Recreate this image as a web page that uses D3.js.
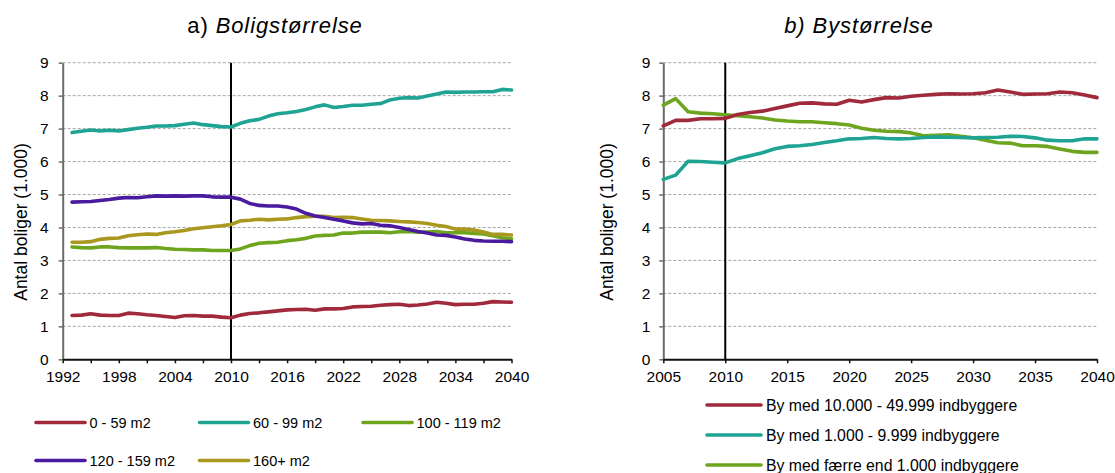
<!DOCTYPE html>
<html>
<head>
<meta charset="utf-8">
<script src="https://cdn.jsdelivr.net/npm/d3@7"></script>
<style>
  html, body { margin: 0; padding: 0; background: #fff; }
  svg { display: block; font-family: "Liberation Sans", Arial, sans-serif; }
</style>
</head>
<body>
<svg id="chart" width="1115" height="473"></svg>
<script>
// ---- a) Boligstørrelse: dwellings by floor area (1.000), 1993–2040 ----
const yearsA = d3.range(1993, 2041);
const seriesANames = ["0 - 59 m2", "60 - 99 m2", "100 - 119 m2", "120 - 159 m2", "160+ m2"];
const area0_59 = [1.33,1.34,1.38,1.34,1.33,1.33,1.40,1.38,1.35,1.33,1.30,1.27,1.32,1.33,1.31,1.31,1.28,1.26,
  1.34,1.39,1.41,1.44,1.47,1.50,1.51,1.52,1.49,1.53,1.53,1.54,1.59,1.60,1.61,1.64,1.66,1.67,1.63,1.65,1.68,1.73,1.70,1.66,1.67,1.67,1.70,1.75,1.74,1.73];
const area60_99 = [6.88,6.92,6.96,6.93,6.95,6.93,6.97,7.01,7.04,7.08,7.08,7.09,7.13,7.17,7.12,7.09,7.06,7.05,
  7.16,7.24,7.28,7.38,7.45,7.48,7.52,7.58,7.66,7.72,7.64,7.67,7.71,7.71,7.74,7.76,7.87,7.92,7.94,7.93,7.99,8.05,8.11,8.10,8.11,8.11,8.12,8.12,8.19,8.17];
const area100_119 = [3.41,3.39,3.38,3.41,3.41,3.39,3.38,3.38,3.38,3.39,3.36,3.34,3.33,3.32,3.32,3.30,3.30,3.30,
  3.35,3.45,3.52,3.54,3.55,3.60,3.63,3.67,3.74,3.76,3.77,3.83,3.83,3.86,3.86,3.86,3.84,3.87,3.88,3.86,3.86,3.88,3.84,3.84,3.84,3.82,3.80,3.75,3.69,3.66];
const area120_159 = [4.77,4.78,4.79,4.82,4.85,4.89,4.91,4.90,4.93,4.96,4.95,4.96,4.95,4.96,4.96,4.93,4.92,4.92,
  4.86,4.73,4.67,4.65,4.65,4.62,4.56,4.43,4.35,4.30,4.25,4.20,4.14,4.11,4.12,4.07,4.05,4.00,3.94,3.88,3.83,3.77,3.76,3.71,3.65,3.61,3.59,3.58,3.58,3.57];
const area160plus = [3.55,3.55,3.57,3.64,3.67,3.68,3.75,3.78,3.80,3.79,3.84,3.87,3.91,3.96,3.99,4.02,4.05,4.09,
  4.20,4.22,4.25,4.23,4.25,4.26,4.30,4.33,4.34,4.34,4.30,4.31,4.30,4.26,4.22,4.21,4.20,4.18,4.17,4.15,4.12,4.07,4.03,3.95,3.95,3.92,3.86,3.79,3.79,3.77];
const tickYearsA = d3.range(1992, 2041, 3);

// ---- b) Bystørrelse: dwellings by town size (1.000), 2005–2040 ----
const yearsB = d3.range(2005, 2041);
const seriesBNames = ["By med 10.000 - 49.999 indbyggere", "By med 1.000 - 9.999 indbyggere", "By med færre end 1.000 indbyggere"];
const town10k_50k = [7.08,7.25,7.25,7.30,7.30,7.31,7.43,7.49,7.53,7.61,7.69,7.77,7.78,7.75,7.74,7.86,7.81,7.88,7.94,7.93,
  7.98,8.01,8.04,8.06,8.05,8.06,8.09,8.17,8.11,8.04,8.05,8.06,8.11,8.09,8.02,7.94];
const town1k_10k = [5.46,5.59,6.01,6.00,5.98,5.96,6.09,6.18,6.27,6.39,6.46,6.48,6.52,6.58,6.63,6.69,6.70,6.73,6.70,6.69,
  6.70,6.73,6.75,6.74,6.73,6.72,6.73,6.74,6.77,6.76,6.72,6.65,6.63,6.63,6.69,6.69];
const townUnder1k = [7.71,7.91,7.51,7.47,7.45,7.42,7.39,7.36,7.32,7.26,7.23,7.21,7.21,7.18,7.15,7.11,7.01,6.95,6.92,6.91,
  6.87,6.78,6.80,6.81,6.77,6.72,6.65,6.57,6.56,6.48,6.48,6.46,6.38,6.31,6.28,6.28];
const tickYearsB = d3.range(2005, 2041, 5);

const yTicks = d3.range(0, 10);
const markerYear = 2010;

const RED = "#a02a3b", TEAL = "#1fa494", GREEN = "#6ea51f", PURPLE = "#4a1b9f", GOLD = "#a8981e";
const FONT = '"Liberation Sans", Arial, sans-serif';

const svg = d3.select("#chart");

function panel(opts) {
  const g = svg.append("g");
  const x = d3.scaleLinear().domain(opts.xDomain).range(opts.xRange);
  const y = d3.scaleLinear().domain([0, 9]).range([359.3, 62.7]);

  // dashed gridlines
  g.append("g").selectAll("line").data(yTicks.filter(d => d > 0)).join("line")
    .attr("x1", opts.xRange[0]).attr("x2", opts.xRange[1])
    .attr("y1", d => y(d)).attr("y2", d => y(d))
    .attr("stroke", "#a6a6a6").attr("stroke-width", 1).attr("stroke-dasharray", "3,2");

  // y axis
  const ya = g.append("g").attr("transform", `translate(${opts.xRange[0]},0)`)
    .call(d3.axisLeft(y).tickValues(yTicks).tickSize(4).tickSizeOuter(0).tickPadding(opts.yPad).tickFormat(d3.format("d")));
  ya.select(".domain").attr("stroke", "#6b6b6b").attr("stroke-width", 2);
  ya.selectAll(".tick line").attr("stroke", "#6b6b6b").attr("stroke-width", 1.5);
  ya.selectAll(".tick text").attr("font-size", 15.5).attr("font-family", FONT).attr("fill", "#000");

  // x axis
  const xa = g.append("g").attr("transform", `translate(0,${y(0)})`)
    .call(d3.axisBottom(x).tickValues(opts.tickValues).tickSize(4).tickSizeOuter(0).tickPadding(8)
      .tickFormat(opts.tickFormat));
  xa.select(".domain").attr("stroke", "#111").attr("stroke-width", 2);
  xa.selectAll(".tick line").attr("stroke", "#111").attr("stroke-width", 1.5);
  xa.selectAll(".tick text").attr("font-size", 15.5).attr("font-family", FONT).attr("fill", "#000");

  // 2010 marker line
  g.append("line")
    .attr("x1", x(markerYear)).attr("x2", x(markerYear))
    .attr("y1", y(9)).attr("y2", y(0))
    .attr("stroke", "#000").attr("stroke-width", 2);

  // series lines
  const line = d3.line().x((d, i) => x(opts.years[i])).y(d => y(d));
  g.append("g").selectAll("path").data(opts.series).join("path")
    .attr("d", s => line(s.values))
    .attr("fill", "none").attr("stroke", s => s.color)
    .attr("stroke-width", 3.6).attr("stroke-linejoin", "round").attr("stroke-linecap", "round");

  // y axis title
  g.append("text")
    .attr("transform", `translate(${opts.yLabelX},${222}) rotate(-90)`)
    .attr("text-anchor", "middle").attr("dominant-baseline", "central")
    .attr("font-size", 17.5).attr("font-family", FONT).text("Antal boliger (1.000)");

  return { x, y };
}

// Panel a
panel({
  xDomain: [1992, 2040], xRange: [62.7, 511.5], yPad: 10, yLabelX: 21,
  years: yearsA, tickValues: tickYearsA,
  tickFormat: d => ((d - 1992) % 6 === 0 ? String(d) : ""),
  series: [
    { name: seriesANames[0], values: area0_59, color: RED },
    { name: seriesANames[1], values: area60_99, color: TEAL },
    { name: seriesANames[2], values: area100_119, color: GREEN },
    { name: seriesANames[4], values: area160plus, color: GOLD },
    { name: seriesANames[3], values: area120_159, color: PURPLE }
  ]
});

// Panel b
panel({
  xDomain: [2005, 2040], xRange: [663.3, 1097], yPad: 9, yLabelX: 607,
  years: yearsB, tickValues: tickYearsB,
  tickFormat: d => String(d),
  series: [
    { name: seriesBNames[2], values: townUnder1k, color: GREEN },
    { name: seriesBNames[1], values: town1k_10k, color: TEAL },
    { name: seriesBNames[0], values: town10k_50k, color: RED }
  ]
});

// Titles
const tA = svg.append("text").attr("x", 275).attr("y", 33).attr("text-anchor", "middle")
  .attr("font-size", 22).attr("letter-spacing", 0.9).attr("font-family", FONT);
tA.append("tspan").text("a) ");
tA.append("tspan").attr("font-style", "italic").text("Boligstørrelse");

svg.append("text").attr("x", 859).attr("y", 33).attr("text-anchor", "middle")
  .attr("font-size", 22).attr("letter-spacing", 0.9).attr("font-style", "italic").attr("font-family", FONT)
  .text("b) Bystørrelse");

// Legend a (3 columns, 2 rows)
const legA = [
  { name: seriesANames[0], color: RED, x: 36, y: 422.5 },
  { name: seriesANames[1], color: TEAL, x: 199.5, y: 422.5 },
  { name: seriesANames[2], color: GREEN, x: 363, y: 422.5 },
  { name: seriesANames[3], color: PURPLE, x: 36, y: 460.5 },
  { name: seriesANames[4], color: GOLD, x: 199.5, y: 460.5 }
];
const la = svg.append("g").selectAll("g").data(legA).join("g")
  .attr("transform", d => `translate(${d.x},${d.y})`);
la.append("line").attr("x1", 0).attr("x2", 49).attr("stroke", d => d.color)
  .attr("stroke-width", 3.6).attr("stroke-linecap", "round");
la.append("text").attr("x", 53.5).attr("dominant-baseline", "central")
  .attr("font-size", 14.5).attr("font-family", FONT).text(d => d.name);

// Legend b (single column)
const legB = [
  { name: seriesBNames[0], color: RED, y: 405 },
  { name: seriesBNames[1], color: TEAL, y: 435 },
  { name: seriesBNames[2], color: GREEN, y: 465 }
];
const lb = svg.append("g").selectAll("g").data(legB).join("g")
  .attr("transform", d => `translate(707,${d.y})`);
lb.append("line").attr("x1", 0).attr("x2", 54).attr("stroke", d => d.color)
  .attr("stroke-width", 3.6).attr("stroke-linecap", "round");
lb.append("text").attr("x", 59).attr("dominant-baseline", "central")
  .attr("font-size", 15.8).attr("font-family", FONT).text(d => d.name);
</script>
</body>
</html>
